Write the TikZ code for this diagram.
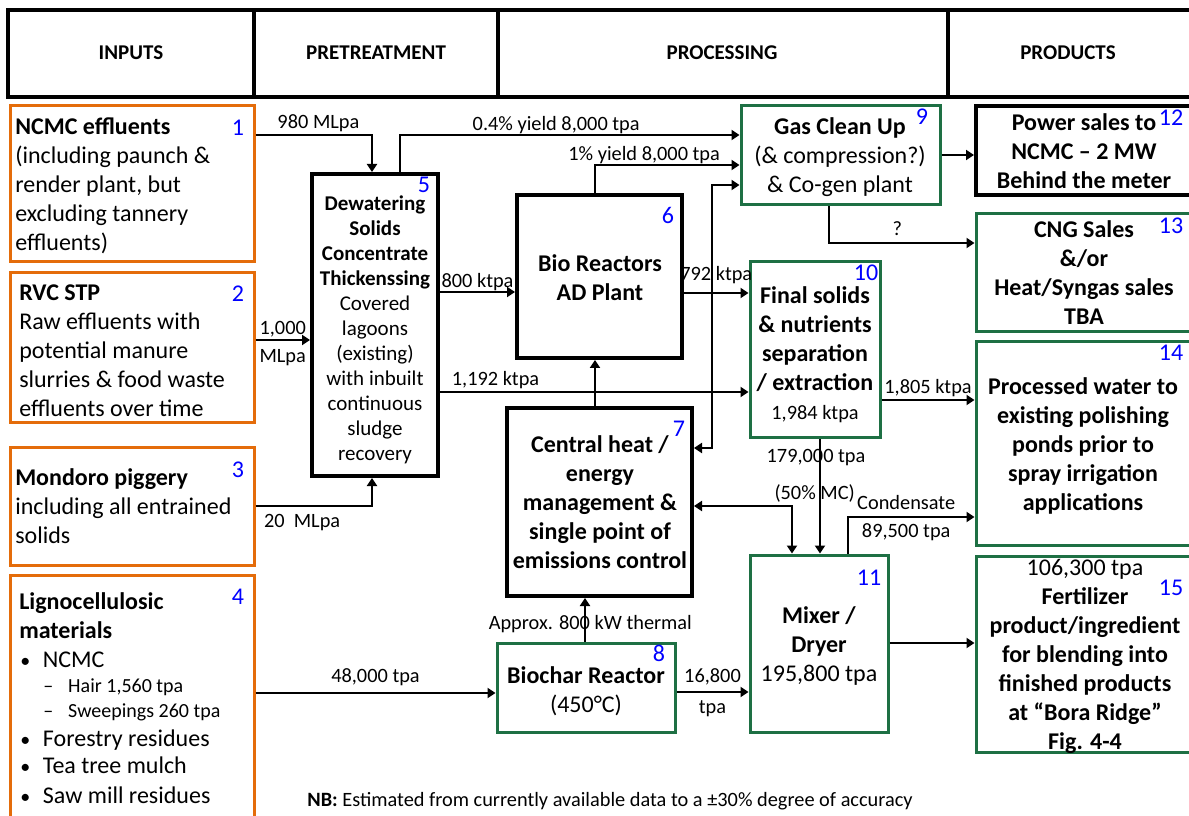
\documentclass[tikz,border=0pt]{standalone}
\usepackage{fontspec}
\setmainfont{Carlito}
\usetikzlibrary{arrows.meta,fit}

\definecolor{inorange}{RGB}{228,108,10}
\definecolor{procgreen}{RGB}{30,112,68}
\newcommand\fbody{\fontsize{18}{21.75}\selectfont}
\newcommand\fmid{\fontsize{15.75}{18.75}\selectfont}
\newcommand\fsub{\fontsize{15}{18}\selectfont}
\newcommand\flbl{\fontsize{15.25}{17}\selectfont}
\newcommand\fnum{\fontsize{18}{20}\selectfont}

\begin{document}
\begin{tikzpicture}[x=0.75pt,y=-0.75pt,
    cell/.style={draw,line width=2.6pt,inner sep=0pt},
    head/.style={inner sep=0pt,font=\fmid\bfseries},
    inbox/.style={draw=inorange,line width=2.25pt,inner sep=0pt},
    blkbox/.style={draw,line width=3pt,inner sep=0pt},
    grnbox/.style={draw=procgreen,line width=2.25pt,inner sep=0pt},
    txt/.style={inner sep=0pt,font=\fbody},
    num/.style={inner sep=0pt,text=blue,font=\fnum},
    lbl/.style={inner sep=1.5pt,font=\flbl},
    flow/.style={line width=1.5pt,-{Triangle[length=6pt,width=7.5pt]}},
    both/.style={line width=1.5pt,{Triangle[length=6pt,width=7.5pt]}-{Triangle[length=6pt,width=7.5pt]}}]
  \useasboundingbox (0,0) rectangle (1189,816);

  % column heads
  \node[cell,fit={(8,10) (254,97)}] (hin) {};
  \node[cell,fit={(254,10) (498,97)}] (hpre) {};
  \node[cell,fit={(498,10) (948,97)}] (hproc) {};
  \node[cell,fit={(948,10) (1193,97)}] (hprod) {};
  \node[head] (hin-t) at (131,53) {INPUTS};
  \node[head] (hpre-t) at (376,53) {PRETREATMENT};
  \node[head] (hproc-t) at (722,53) {PROCESSING};
  \node[head] (hprod-t) at (1068,53) {PRODUCTS};

  % inputs
  \node[inbox,fit={(10,106) (254,262)}] (b1) {};
  \node[inbox,fit={(10,273) (254,423)}] (b2) {};
  \node[inbox,fit={(10,448) (254,565)}] (b3) {};
  \node[inbox,fit={(10,575) (254,830)}] (b4) {};
  \node[txt,anchor=west,align=left] (t1) at (15,186)
    {\textbf{NCMC effluents}\\(including paunch \&\\render plant, but\\excluding tannery\\effluents)};
  \node[txt,anchor=west,align=left] (t2) at (19,351)
    {\textbf{RVC STP}\\Raw effluents with\\potential manure\\slurries \& food waste\\effluents over time};
  \node[txt,anchor=west,align=left] (t3) at (15,506)
    {\textbf{Mondoro piggery}\\including all entrained\\solids};
  \node[txt,anchor=west,align=left] (t4) at (19,616)
    {\textbf{Lignocellulosic}\\\textbf{materials}};
  \foreach \y/\t in {667/NCMC,746/Forestry residues,773/Tea tree mulch,803/Saw mill residues}
    \node[txt,anchor=base west] (bul\y) at (20,\y) {\makebox[17pt][l]{\fsub\textbullet}\t};
  \foreach \y/\t in {692/{Hair 1,560 tpa},717/{Sweepings 260 tpa}}
    \node[txt,font=\fsub,anchor=base west] (sub\y) at (43,\y) {\makebox[18.75pt][l]{--}\t};

  % pretreatment and processing
  \node[blkbox,fit={(312,174) (438,476)}] (b5) {};
  \node[txt,font=\fmid,align=center] (t5) at (375,330)
    {\textbf{Dewatering}\\\textbf{Solids}\\\textbf{Concentrate}\\\textbf{Thickenssing}\\Covered\\lagoons\\(existing)\\with inbuilt\\continuous\\sludge\\recovery};
  \node[blkbox,fit={(517,195) (682,358)}] (b6) {};
  \node[txt,align=center,font=\fbody\bfseries] (t6) at (600,278) {Bio Reactors\\AD Plant};
  \node[blkbox,fit={(507,408) (692,596)}] (b7) {};
  \node[txt,align=center,font=\fbody\bfseries] (t7) at (600,502)
    {Central heat /\\energy\\management \&\\single point of\\emissions control};
  \node[grnbox,fit={(497,643) (675,732)}] (b8) {};
  \node[txt,align=center] (t8) at (586,691) {\textbf{Biochar Reactor}\\(450°C)};
  \node[grnbox,fit={(741,106) (940,205)}] (b9) {};
  \node[txt,align=center] (t9) at (840,157) {\textbf{Gas Clean Up}\\(\& compression?)\\\& Co-gen plant};
  \node[grnbox,fit={(750,262) (880,438)}] (b10) {};
  \node[txt,align=center] (t10) at (815,355)
    {\textbf{Final solids}\\\textbf{\& nutrients}\\\textbf{separation}\\\textbf{/ extraction}\\{\flbl 1,984 ktpa}};
  \node[grnbox,fit={(750,555) (888,732)}] (b11) {};
  \node[txt,align=center] (t11) at (819,646) {\textbf{Mixer /}\\\textbf{Dryer}\\195,800 tpa};

  % products
  \node[blkbox,fit={(976,106) (1195,195)}] (b12) {};
  \node[txt,align=center,font=\fbody\bfseries] (t12) at (1084,151)
    {Power sales to\\NCMC -- 2 MW\\Behind the meter};
  \node[grnbox,fit={(976,214) (1195,332)}] (b13) {};
  \node[txt,align=center,font=\fbody\bfseries] (t13) at (1084,273)
    {CNG Sales\\\&/or\\Heat/Syngas sales\\TBA};
  \node[grnbox,fit={(976,342) (1195,545)}] (b14) {};
  \node[txt,align=center,font=\fbody\bfseries] (t14) at (1083,446)
    {Processed water to\\existing polishing\\ponds prior to\\spray irrigation\\applications};
  \node[grnbox,fit={(976,556) (1195,752)}] (b15) {};
  \node[txt,align=center] (t15) at (1085,656)
    {106,300 tpa\\\textbf{Fertilizer}\\\textbf{product/ingredient}\\\textbf{for blending into}\\\textbf{finished products}\\\textbf{at “Bora Ridge”}\\\textbf{Fig. 4-4}};

  % box numbers
  \foreach \n/\x/\y in {1/238/128,2/238/294,3/238/470,4/238/597,5/424/185,6/668/215,7/679/429,8/659/653,
      9/922/117,10/866/273,11/869/578,12/1171/118,13/1171/226,14/1171/353,15/1171/588}
    \node[num] (n\n) at (\x,\y) {\n};

  % flows
  \draw[flow] (b1.east |- 0,135) -| (b5.north -| 372,0) node[lbl,above,pos=0.27] {980 MLpa};
  \draw[flow] (b2.east |- 0,340) -- (b5.west |- 0,340)
    node[lbl,above,midway] {1,000} node[lbl,below=5pt,midway] {MLpa};
  \draw[flow] (b3.east |- 0,506) -| (b5.south -| 372,0) node[lbl,below=4pt,pos=0.2] {20~~MLpa};
  \draw[flow] (b5.north -| 400,0) |- (b9.west |- 0,135) node[lbl,above,pos=0.73,inner sep=0.5pt] {0.4\% yield 8,000 tpa};
  \draw[flow] (b6.north -| 595,0) |- (b9.west |- 0,165) node[lbl,above,pos=0.67,inner sep=0.5pt] {1\% yield 8,000 tpa};
  \draw[both] (b9.west |- 0,185) -| (712,448) -- (b7.east |- 0,448);
  \draw[flow] (b5.east |- 0,292) -- (b6.west |- 0,292) node[lbl,above,midway,inner sep=0pt] {800 ktpa};
  \draw[flow] (b5.east |- 0,392) -- (b10.west |- 0,392) node[lbl,above,pos=0.18] {1,192 ktpa};
  \draw[flow] (b6.east |- 0,293) -- (b10.west |- 0,293) node[lbl,above=5pt,midway] {792 ktpa};
  \draw[flow] (b7.north -| 595,0) -- (b6.south -| 595,0);
  \draw[both] (b7.east |- 0,506) -| (b11.north -| 792,0);
  \draw[flow] (b10.south -| 820,0) -- (b11.north -| 820,0)
    node[lbl,pos=0.16,xshift=-3pt] {179,000 tpa} node[lbl,pos=0.47,xshift=-4pt] {(50\% MC)};
  \draw[flow] (b9.east |- 0,155) -- (b12.west |- 0,155);
  \draw[flow] (b9.south -| 829,0) |- (b13.west |- 0,243) node[lbl,above=3pt,pos=0.735] {?};
  \draw[flow] (b10.east |- 0,400) -- (b14.west |- 0,400) node[lbl,above,midway] {1,805 ktpa};
  \draw[flow] (b11.north -| 848,0) |- (b14.west |- 0,517)
    node[lbl,above=3pt,pos=0.73] {Condensate} node[lbl,below=3pt,pos=0.73] {89,500 tpa};
  \draw[flow] (b4.east |- 0,693) -- (b8.west |- 0,693) node[lbl,above=3pt,midway] {48,000 tpa};
  \draw[flow] (b8.north -| 585,0) -- (b7.south -| 585,0) node[lbl,pos=0.4,xshift=4pt] {Approx. 800 kW thermal};
  \draw[flow] (b8.east |- 0,692) -- (b11.west |- 0,692)
    node[lbl,above=3pt,midway] {16,800} node[lbl,below=4pt,midway] {tpa};
  \draw[flow] (b11.east |- 0,643) -- (b15.west |- 0,643);

  \node[font=\flbl] (nb) at (610,801) {\textbf{NB:} Estimated from currently available data to a ±30\% degree of accuracy};
\end{tikzpicture}
\end{document}
